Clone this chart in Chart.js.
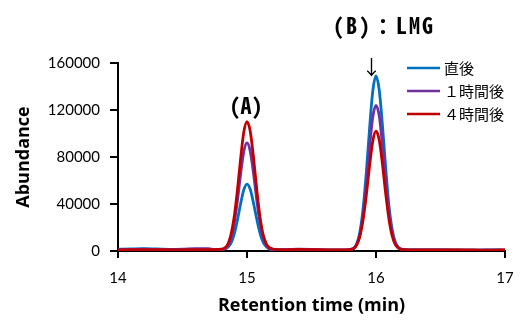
<!DOCTYPE html>
<html><head><meta charset="utf-8">
<script src="https://cdn.jsdelivr.net/npm/chart.js@4/dist/chart.umd.min.js"></script>
<style>html,body{margin:0;padding:0;background:#fff}#wrap{width:523px;height:321px}</style>
</head><body><div id="wrap"><canvas id="c" width="523" height="321"></canvas></div>
<script>
const times = [14.0,14.1,14.2,14.3,14.4,14.5,14.6,14.7,14.75,14.8,
 14.825,14.85,14.875,14.9,14.925,14.95,14.975,15.0,15.025,15.05,15.075,15.1,15.125,15.15,15.175,
 15.2,15.25,15.3,15.4,15.5,15.6,15.7,15.75,15.8,
 15.825,15.85,15.875,15.9,15.925,15.95,15.975,16.0,16.025,16.05,16.075,16.1,16.125,16.15,16.175,
 16.2,16.25,16.3,16.4,16.5,16.6,16.7,16.8,16.9,17.0];
const seriesNames = ["直後","１時間後","４時間後"];
const immediate = [1500,1800,2000,1700,1400,1200,1300,1200,1200,1400,
 1800,3000,6500,14000,26000,40000,52000,57000,52500,41000,27500,15500,7500,3500,1800,
 1200,900,800,900,800,700,700,800,1400,
 2200,6000,16000,36000,67000,104000,136000,149000,137000,107000,71000,39000,18500,7500,3000,
 1600,1000,900,900,900,800,800,800,900,800];
const after1h = [1200,1300,1500,1400,1300,1500,2000,1900,1300,1200,
 1600,4200,10500,23000,42000,65000,84500,92000,85000,66500,44000,24500,11500,4500,1800,
 1200,1000,1100,1500,1400,1100,900,900,1200,
 1800,5500,14100,31000,57000,88000,114000,124000,115000,90000,59500,33000,15500,6500,2500,
 1400,1000,900,900,900,900,800,800,800,800];
const after4h = [1000,1100,1200,1100,1000,1000,1100,1100,1100,1500,
 2500,5500,13500,28500,51000,78000,101000,110000,102000,80000,53000,29500,14000,6000,2800,
 1700,1200,1100,1300,1200,1000,900,900,1200,
 2000,5000,12500,26500,47500,72500,93500,102000,94500,74000,49000,27500,13000,5500,2400,
 1400,1000,900,900,900,900,900,800,800,900];
const yTicks = [0,40000,80000,120000,160000];
const xTicks = [14,15,16,17];
const colors = ["#0070C0","#7030A0","#C00000"];

const pts = arr => arr.map((v,i)=>({x:times[i], y:v}));
const series = [immediate, after1h, after4h];
const annoFont = '"Noto Sans Mono CJK JP", "DejaVu Sans Mono", "Noto Sans CJK JP", monospace';

const annot = {
  id:'annot',
  afterDatasetsDraw(chart){
    const ctx = chart.ctx, xs = chart.scales.x;
    ctx.save();
    ctx.fillStyle = '#000';
    ctx.textBaseline = 'middle';
    ctx.textAlign = 'center';
    ctx.font = 'bold 22px ' + annoFont;
    ctx.fillText('(A)', xs.getPixelForValue(15.0) - 1, 106);
    ctx.font = 'bold 22px ' + annoFont;
    if ('letterSpacing' in ctx) ctx.letterSpacing = '2px';
    ctx.fillText('(B)：LMG', 384, 26);
    if ('letterSpacing' in ctx) ctx.letterSpacing = '0px';
    ctx.font = '20px "Noto Sans CJK JP"';
    ctx.fillText('↓', xs.getPixelForValue(15.965), 67);
    // legend
    ctx.textAlign = 'left';
    ctx.font = '15px "Noto Sans CJK JP"';
    const ly = [68, 91, 114];
    for (let i=0;i<3;i++){
      ctx.strokeStyle = colors[i]; ctx.lineWidth = 2.5;
      ctx.beginPath(); ctx.moveTo(407, ly[i]); ctx.lineTo(440, ly[i]); ctx.stroke();
      ctx.fillStyle = '#000';
      ctx.fillText(seriesNames[i], 444, ly[i]);
    }
    ctx.restore();
  }
};

new Chart(document.getElementById('c'), {
  type:'line',
  data:{ datasets: series.map((s,i)=>({
    label: seriesNames[i], data: pts(s), borderColor: colors[i], backgroundColor: colors[i],
    borderWidth: 2.8, pointRadius: 0, cubicInterpolationMode:'monotone', fill:false, order: 3-i
  }))},
  options:{
    responsive:false, animation:false, devicePixelRatio:1,
    layout:{padding:{top:63,right:18,left:0,bottom:0}},
    plugins:{legend:{display:false}, tooltip:{enabled:false}},
    scales:{
      x:{type:'linear', min:14, max:17,
        afterBuildTicks(s){ s.ticks = xTicks.map(v=>({value:v})); },
        afterFit(s){ s.height = 70; s.paddingLeft = 0; s.paddingRight = 0; },
        border:{color:'#000', width:2},
        grid:{drawOnChartArea:false, color:'#000', tickLength:7, lineWidth:2},
        ticks:{color:'#000', font:{family:'Lato', size:15}, padding:11, maxRotation:0},
        title:{display:true, text:'Retention time (min)', color:'#000', font:{family:'"Open Sans"', size:18, weight:'bold'}, padding:{top:2,bottom:4}}
      },
      y:{min:0, max:160000,
        afterBuildTicks(s){ s.ticks = yTicks.map(v=>({value:v})); },
        afterFit(s){ s.width = 118; s.paddingTop = 0; s.paddingBottom = 0; },
        border:{color:'#000', width:2},
        grid:{drawOnChartArea:false, color:'#000', tickLength:8, lineWidth:2},
        ticks:{color:'#000', font:{family:'Lato', size:15}, padding:10, callback:v=>String(v)},
        title:{display:true, text:'Abundance', color:'#000', font:{family:'"Open Sans"', size:18, weight:'bold'}, padding:{top:13,bottom:4}}
      }
    }
  },
  plugins:[annot]
});
</script></body></html>
